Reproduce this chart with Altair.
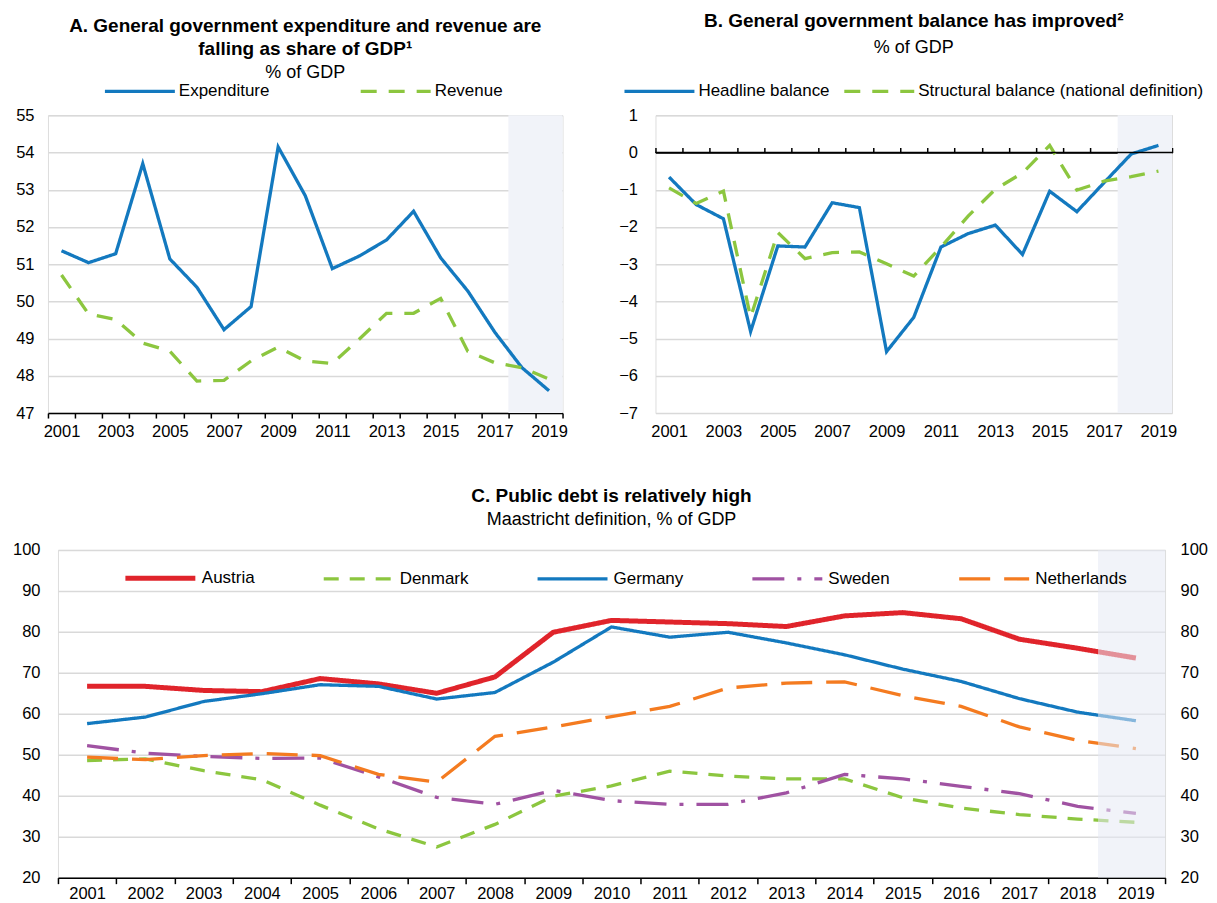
import altair as alt
import pandas as pd

FONT = "Liberation Sans, Arial, sans-serif"
BLACK = "#000000"
BLUE = "#1379bf"
GREEN = "#8cc63f"
RED = "#e0242b"
PURPLE = "#a052a2"
ORANGE = "#f47b20"
GRID = "#d9d9d9"
SHADE = "#f1f3f9"
SHADE_C = "#e6eaf4"

# ---------------- data ----------------
years = list(range(2001, 2020))
forecast_years = [2018, 2019]
shade_c = [2018.35, 2019.5]

expenditure = [51.36, 51.04, 51.28, 53.70, 51.14, 50.38, 49.24, 49.86, 54.15, 52.84,
               50.88, 51.22, 51.65, 52.42, 51.17, 50.28, 49.17, 48.22, 47.60]
revenue = [50.71, 49.66, 49.51, 48.88, 48.66, 47.86, 47.88, 48.40, 48.77, 48.40,
           48.33, 48.99, 49.68, 49.68, 50.08, 48.66, 48.35, 48.22, 47.91]

headline = [-0.66, -1.40, -1.78, -4.81, -2.51, -2.54, -1.35, -1.48, -5.35, -4.43,
            -2.54, -2.18, -1.95, -2.74, -1.04, -1.59, -0.81, -0.04, 0.19]
structural = [-0.95, -1.37, -1.04, -4.43, -2.15, -2.85, -2.69, -2.67, -2.99, -3.32,
              -2.54, -1.71, -0.99, -0.55, 0.19, -1.01, -0.77, -0.65, -0.50]

austria = [66.7, 66.7, 65.7, 65.4, 68.6, 67.3, 65.0, 69.0, 79.9, 82.8,
           82.4, 82.0, 81.3, 83.9, 84.7, 83.2, 78.2, 76.0, 73.6]
denmark = [48.6, 49.0, 46.1, 43.9, 37.7, 31.9, 27.5, 33.0, 39.9, 42.4,
           46.0, 44.8, 44.1, 44.1, 39.5, 37.0, 35.4, 34.3, 33.5]
germany = [57.6, 59.2, 63.0, 64.9, 67.1, 66.7, 63.6, 65.2, 72.6, 81.2,
           78.7, 79.9, 77.3, 74.4, 70.9, 67.9, 63.7, 60.4, 58.3]
sweden = [52.2, 50.4, 49.6, 49.1, 49.2, 44.6, 39.6, 37.9, 41.3, 38.8,
          37.9, 37.9, 40.7, 45.2, 44.1, 42.3, 40.5, 37.4, 35.7]
netherlands = [49.4, 48.8, 49.8, 50.3, 49.8, 45.2, 43.3, 54.5, 56.8, 59.3,
               61.8, 66.3, 67.5, 67.8, 64.4, 61.8, 56.8, 53.5, 51.5]

series_a = ["Expenditure", "Revenue"]
series_b = ["Headline balance", "Structural balance (national definition)"]
countries = ["Austria", "Denmark", "Germany", "Sweden", "Netherlands"]

y_ticks_a = [47, 48, 49, 50, 51, 52, 53, 54, 55]
y_ticks_b = [-7, -6, -5, -4, -3, -2, -1, 0, 1]
y_ticks_c = [20, 30, 40, 50, 60, 70, 80, 90, 100]

# ---------------- layout ----------------
WA, HA = 515, 298
WB, HB = 517, 298
WC, HC = 1108, 328

bounds = [y - 0.5 for y in years] + [years[-1] + 0.5]
x_domain = [bounds[0], bounds[-1]]
x_scale = alt.Scale(domain=x_domain, nice=False, zero=False)


def long_df(names, values, key):
    rows = []
    for name, vals in zip(names, values):
        for yr, v in zip(years, vals):
            rows.append({"year": yr, "value": v, key: name})
    return pd.DataFrame(rows)


def x_axis(width, every_other, ticks=True, tick_size=5, label_padding=5):
    step = width / len(years)
    last = years[-1]
    if every_other:
        expr = f"datum.value < {last} && (datum.value + 0.5) % 2 == 1 ? format(datum.value + 0.5, 'd') : ''"
    else:
        expr = f"datum.value < {last} ? format(datum.value + 0.5, 'd') : ''"
    return alt.Axis(values=bounds, labelExpr=expr, labelOffset=step / 2, labelFlush=False,
                    labelOverlap=False, grid=False, domain=ticks, domainColor=BLACK,
                    domainWidth=1.5, ticks=ticks, tickColor=BLACK, tickWidth=1.5,
                    tickSize=tick_size, labelPadding=label_padding, labelFontSize=16.5,
                    labelColor=BLACK, labelFont=FONT, title=None)


def y_axis(values, pad, extent, orient="left", grid=True):
    return alt.Axis(values=values, orient=orient, grid=grid, gridColor=GRID, gridWidth=1.5,
                    domain=False, ticks=False, labelPadding=pad, minExtent=extent,
                    maxExtent=extent, labelFontSize=16.5, labelColor=BLACK, labelFont=FONT,
                    title=None)


def legend(x, y, col_pad, stroke_width=None, label_offset=2):
    kw = dict(orient="none", legendX=x, legendY=y, direction="horizontal", title=None,
              symbolType="stroke", symbolSize=4900, labelFontSize=17, labelFont=FONT,
              labelColor=BLACK, labelOffset=label_offset, columnPadding=col_pad, padding=0,
              labelLimit=400)
    if stroke_width is not None:
        kw["symbolStrokeWidth"] = stroke_width
    return alt.Legend(**kw)


def title(lines, sub, offset, sub_pad=5):
    return alt.TitleParams(text=lines, subtitle=sub, anchor="middle", frame="group",
                           font=FONT, fontSize=19, fontWeight="bold", color=BLACK,
                           lineHeight=23, subtitleFont=FONT, subtitleFontSize=18,
                           subtitleColor=BLACK, subtitlePadding=sub_pad, offset=offset)


shade_ab = pd.DataFrame({"start": [forecast_years[0] - 0.5], "end": [forecast_years[-1] + 0.5]})

# ---------------- Panel A ----------------
dfA = long_df(series_a, [expenditure, revenue], "seriesA")
axA = x_axis(WA, True, ticks=True, tick_size=5, label_padding=5)
yA = alt.Scale(domain=[y_ticks_a[0], y_ticks_a[-1]], nice=False, zero=False)
legA = legend(55, -61, 84, 3.3)

shadeA = alt.Chart(shade_ab).mark_rect(color=SHADE).encode(
    x=alt.X("start:Q", scale=x_scale, axis=axA), x2="end:Q")
linesA = alt.Chart(dfA).mark_line(strokeWidth=3.3).encode(
    x=alt.X("year:Q", scale=x_scale, axis=axA),
    y=alt.Y("value:Q", scale=yA, axis=y_axis(y_ticks_a, 14, 37)),
    color=alt.Color("seriesA:N", scale=alt.Scale(domain=series_a, range=[BLUE, GREEN]), legend=legA),
    strokeDash=alt.StrokeDash("seriesA:N", scale=alt.Scale(domain=series_a, range=[[1, 0], [16, 12]]), legend=legA),
)
A = alt.layer(shadeA, linesA).properties(
    width=WA, height=HA,
    title=title(["A. General government expenditure and revenue are", "falling as share of GDP¹"], "% of GDP", -28))

# ---------------- Panel B ----------------
dfB = long_df(series_b, [headline, structural], "seriesB")
yB = alt.Scale(domain=[y_ticks_b[0], y_ticks_b[-1]], nice=False, zero=False)
yaxB = y_axis(y_ticks_b, 18, 33)
legB = legend(-33, -61, 7, 3.3)
zero_offset = -HB * (y_ticks_b[-1] - 0) / (y_ticks_b[-1] - y_ticks_b[0])
zero_df = pd.DataFrame({"start": [x_domain[0]], "end": [x_domain[1]], "zero": [0]})

shadeB = alt.Chart(shade_ab).mark_rect(color=SHADE).encode(
    x=alt.X("start:Q", scale=x_scale, axis=None), x2="end:Q")
linesB = alt.Chart(dfB).mark_line(strokeWidth=3.3).encode(
    x=alt.X("year:Q", scale=x_scale, axis=x_axis(WB, True, ticks=False, label_padding=10)),
    y=alt.Y("value:Q", scale=yB, axis=yaxB),
    color=alt.Color("seriesB:N", scale=alt.Scale(domain=series_b, range=[BLUE, GREEN]), legend=legB),
    strokeDash=alt.StrokeDash("seriesB:N", scale=alt.Scale(domain=series_b, range=[[1, 0], [16, 12]]), legend=legB),
)
zeroB = alt.Chart(zero_df).mark_rule(color=BLACK, strokeWidth=1.5).encode(
    x=alt.X("start:Q", scale=x_scale,
            axis=alt.Axis(orient="top", offset=zero_offset, values=bounds, labels=False,
                          domain=True, domainColor=BLACK, domainWidth=1.5, ticks=True,
                          tickColor=BLACK, tickWidth=1.5, tickSize=5, grid=False, title=None)),
    x2="end:Q",
    y=alt.Y("zero:Q", scale=yB, axis=yaxB),
)
B = alt.layer(shadeB, linesB, zeroB).resolve_axis(x="independent").properties(
    width=WB, height=HB,
    title=title(["B. General government balance has improved²"], "% of GDP", -3, sub_pad=8))

# ---------------- Panel C ----------------
dfC = long_df(countries, [austria, denmark, germany, sweden, netherlands], "country")
yC = alt.Scale(domain=[y_ticks_c[0], y_ticks_c[-1]], nice=False, zero=False)
axC = x_axis(WC, False, ticks=True, tick_size=6, label_padding=2)
legC = legend(75, -9.5, 62, label_offset=4)
shade_c_df = pd.DataFrame({"start": [shade_c[0]], "end": [shade_c[1]],
                           "lo": [y_ticks_c[0]], "hi": [y_ticks_c[-1]]})

linesC = alt.Chart(dfC).mark_line().encode(
    x=alt.X("year:Q", scale=x_scale, axis=axC),
    y=alt.Y("value:Q", scale=yC, axis=y_axis(y_ticks_c, 18, 47)),
    color=alt.Color("country:N", scale=alt.Scale(domain=countries, range=[RED, GREEN, BLUE, PURPLE, ORANGE]), legend=legC),
    strokeDash=alt.StrokeDash("country:N", scale=alt.Scale(domain=countries, range=[[1, 0], [15, 11], [1, 0], [32, 13, 4, 13], [31, 14]]), legend=legC),
    strokeWidth=alt.StrokeWidth("country:N", scale=alt.Scale(type="ordinal", domain=countries, range=[5, 3.3, 3.3, 3.3, 3.3]), legend=legC),
)
shadeC = alt.Chart(shade_c_df).mark_rect(color=SHADE_C, opacity=0.55).encode(
    x=alt.X("start:Q", scale=x_scale, axis=axC), x2="end:Q",
    y=alt.Y("lo:Q", scale=yC, axis=y_axis(y_ticks_c, 15, 42, orient="right", grid=False)), y2="hi:Q",
)
C = alt.layer(linesC, shadeC).resolve_axis(y="independent").properties(
    width=WC, height=HC,
    title=title(["C. Public debt is relatively high"], "Maastricht definition, % of GDP", 12.5))

# invisible spacer that shifts panel C's plot 10px to the right of panel A's
spacer = alt.Chart(pd.DataFrame({"v": [0]})).mark_point(opacity=0).properties(width=10, height=HC)
bottom = alt.hconcat(spacer, C, spacing=0, bounds="flush")

top = alt.hconcat(A, B, spacing=40).resolve_scale(
    color="independent", strokeDash="independent").resolve_legend(
    color="independent", strokeDash="independent")
chart = alt.vconcat(top, bottom, spacing=47).resolve_scale(
    color="independent", strokeDash="independent", strokeWidth="independent").resolve_legend(
    color="independent", strokeDash="independent", strokeWidth="independent").properties(
    padding={"left": 2, "top": 3, "right": 0, "bottom": 0}
).configure_view(stroke=None).configure(font=FONT, background="white")

chart.save("out.html", embed_options={"renderer": "svg", "actions": False})
